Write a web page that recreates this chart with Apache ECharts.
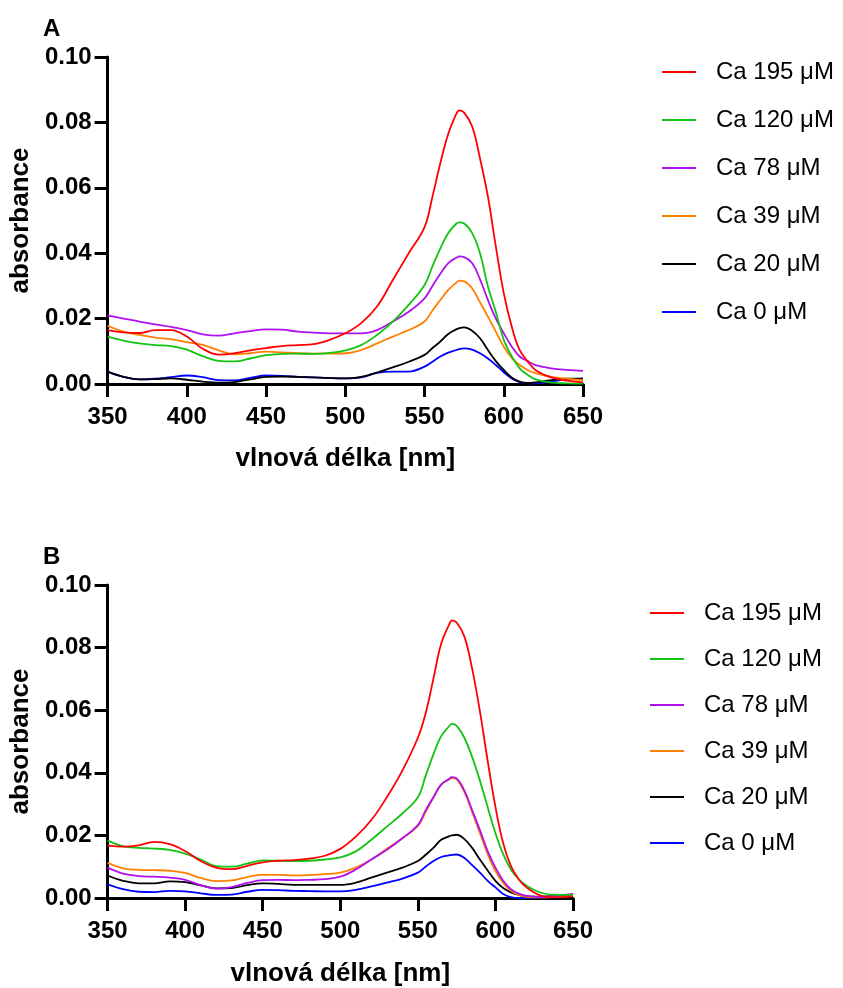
<!DOCTYPE html>
<html>
<head>
<meta charset="utf-8">
<script src="https://cdn.jsdelivr.net/npm/echarts@6/dist/echarts.min.js"></script>
<style>
html,body{margin:0;padding:0;background:#fff;}
#chart{width:843px;height:988px;}
</style>
</head>
<body>
<div id="chart"></div>
<script>
// wavelengths (nm) shared by all series
const wavelengths = [350,360,370,380,390,400,410,420,430,440,450,460,470,480,490,500,510,520,530,540,550,555,560,565,570,572,575,580,585,590,595,600,605,610,615,620,630,640,650];

const seriesNames = ['Ca 195 μM','Ca 120 μM','Ca 78 μM','Ca 39 μM','Ca 20 μM','Ca 0 μM'];
const seriesColors = ['#ff0000','#12c312','#b010ee','#ff8000','#000000','#0000ff'];

// Panel A
const a_ca195 = [.0165,.0158,.0156,.0165,.0165,.0145,.0108,.0090,.0094,.0103,.0110,.0116,.0119,.0122,.0135,.0155,.0186,.0237,.0318,.0400,.0480,.0573,.0676,.0765,.0826,.0837,.0830,.0788,.0690,.0573,.0420,.0278,.0176,.0104,.0070,.0043,.0020,.0010,.0005];
const a_ca120 = [.0145,.0133,.0124,.0119,.0116,.0105,.0085,.0071,.0069,.0078,.0088,.0092,.0093,.0092,.0095,.0103,.0119,.0150,.0191,.0242,.0303,.0360,.0415,.0462,.0490,.0494,.0491,.0462,.0400,.0298,.0220,.0135,.0085,.0048,.0028,.0014,.0004,.0002,.0001];
const a_ca78  = [.0210,.0200,.0191,.0182,.0175,.0165,.0152,.0148,.0155,.0162,.0167,.0166,.0160,.0157,.0155,.0155,.0155,.0165,.0191,.0221,.0262,.0300,.0337,.0370,.0386,.0390,.0388,.0370,.0320,.0257,.0200,.0155,.0115,.0084,.0070,.0058,.0048,.0043,.0040];
const a_ca39  = [.0178,.0160,.0150,.0142,.0137,.0128,.0120,.0103,.0091,.0094,.0099,.0097,.0094,.0093,.0093,.0094,.0104,.0124,.0145,.0165,.0191,.0225,.0257,.0288,.0310,.0316,.0314,.0293,.0250,.0206,.0160,.0114,.0080,.0058,.0043,.0033,.0022,.0016,.0012];
const a_ca20  = [.0038,.0022,.0014,.0015,.0017,.0013,.0007,.0004,.0006,.0014,.0022,.0023,.0022,.0020,.0018,.0017,.0022,.0035,.0051,.0068,.0089,.0110,.0130,.0153,.0167,.0171,.0173,.0163,.0140,.0104,.0070,.0043,.0020,.0007,.0003,.0005,.0012,.0016,.0016];
const a_ca0   = [.0038,.0022,.0014,.0016,.0021,.0026,.0021,.0012,.0011,.0019,.0026,.0025,.0022,.0020,.0018,.0017,.0020,.0034,.0038,.0038,.0053,.0068,.0084,.0096,.0104,.0107,.0109,.0105,.0094,.0078,.0058,.0036,.0017,.0006,.0002,.0002,.0008,.0014,.0016];

// Panel B
const b_ca195 = [.0167,.0164,.0168,.0179,.0172,.0150,.0118,.0097,.0092,.0103,.0114,.0119,.0121,.0126,.0135,.0157,.0196,.0249,.0322,.0407,.0512,.0590,.0700,.0812,.0872,.0887,.0880,.0835,.0732,.0596,.0438,.0291,.0175,.0102,.0060,.0034,.0007,.0002,.0005];
const b_ca120 = [.0184,.0165,.0160,.0158,.0154,.0142,.0123,.0102,.0100,.0110,.0120,.0119,.0118,.0119,.0123,.0130,.0149,.0186,.0228,.0270,.0322,.0390,.0459,.0517,.0548,.0556,.0550,.0512,.0450,.0375,.0290,.0207,.0140,.0091,.0060,.0039,.0016,.0010,.0010];
const b_ca78  = [.0097,.0078,.0070,.0068,.0065,.0058,.0041,.0030,.0035,.0048,.0057,.0058,.0057,.0058,.0060,.0068,.0091,.0123,.0154,.0191,.0233,.0280,.0322,.0362,.0380,.0386,.0382,.0343,.0280,.0217,.0150,.0097,.0055,.0028,.0014,.0007,.0002,.0007,.0013];
const b_ca39  = [.0112,.0095,.0090,.0089,.0087,.0080,.0064,.0054,.0056,.0067,.0074,.0074,.0072,.0073,.0076,.0081,.0097,.0123,.0157,.0191,.0230,.0275,.0320,.0362,.0378,.0383,.0379,.0338,.0275,.0207,.0140,.0086,.0048,.0023,.0010,.0004,.0002,.0004,.0007];
const b_ca20  = [.0072,.0055,.0047,.0047,.0053,.0051,.0040,.0031,.0032,.0041,.0047,.0045,.0042,.0042,.0042,.0042,.0049,.0065,.0081,.0097,.0118,.0138,.0160,.0186,.0197,.0200,.0202,.0188,.0160,.0123,.0088,.0055,.0032,.0018,.0010,.0004,.0004,.0007,.0009];
const b_ca0   = [.0044,.0028,.0020,.0019,.0023,.0021,.0015,.0010,.0011,.0020,.0026,.0025,.0023,.0022,.0021,.0021,.0026,.0037,.0049,.0062,.0081,.0100,.0118,.0131,.0136,.0138,.0139,.0128,.0105,.0081,.0055,.0034,.0013,.0003,.0000,.0000,.0002,.0005,.0008];

// tick labels
const yTicks = ['0.00','0.02','0.04','0.06','0.08','0.10'];
const xTicks = [350,400,450,500,550,600,650];

const panelA = [a_ca195,a_ca120,a_ca78,a_ca39,a_ca20,a_ca0];
const panelB = [b_ca195,b_ca120,b_ca78,b_ca39,b_ca20,b_ca0];

const FONT = "'Liberation Sans', Arial, sans-serif";

function xAxisOpt(gridIndex, nameGap){
  return {
    type:'value', gridIndex, min:xTicks[0], max:xTicks[xTicks.length-1], interval:50,
    name:'vlnová délka [nm]', nameLocation:'middle', nameGap,
    nameTextStyle:{fontFamily:FONT,fontWeight:'bold',fontSize:26,color:'#000'},
    axisLine:{show:true,onZero:false,lineStyle:{color:'#000',width:3}},
    axisTick:{show:true,length:13,lineStyle:{color:'#000',width:3}},
    axisLabel:{margin:21,fontFamily:FONT,fontWeight:'bold',fontSize:24,color:'#000'},
    splitLine:{show:false}
  };
}
function yAxisOpt(gridIndex){
  return {
    type:'value', gridIndex, min:0, max:0.1, interval:0.02,
    name:'absorbance', nameLocation:'middle', nameGap:68, nameRotate:90,
    nameTextStyle:{fontFamily:FONT,fontWeight:'bold',fontSize:26,color:'#000'},
    axisLine:{show:true,onZero:false,lineStyle:{color:'#000',width:3}},
    axisTick:{show:true,length:13,lineStyle:{color:'#000',width:3}},
    axisLabel:{margin:16,fontFamily:FONT,fontWeight:'bold',fontSize:24,color:'#000',
      formatter:(v)=>yTicks[Math.round(v/0.02)]},
    splitLine:{show:false}
  };
}

const series = [];
function addPanel(data, idx){
  for(let i=data.length-1;i>=0;i--){
    series.push({
      name:seriesNames[i], type:'line', xAxisIndex:idx, yAxisIndex:idx,
      data:wavelengths.map((w,k)=>[w,data[i][k]]),
      smooth:0.4, showSymbol:false, symbol:'none',
      lineStyle:{color:seriesColors[i],width:1.8},
      itemStyle:{color:seriesColors[i]},
      emphasis:{disabled:true}, animation:false
    });
  }
}
addPanel(panelA,0);
addPanel(panelB,1);

function legendOpt(left, top, itemGap){
  return {
    orient:'vertical', left, top, itemGap,
    data:seriesNames.slice(),
    icon:'rect', itemWidth:34, itemHeight:2,
    textStyle:{fontFamily:FONT,fontSize:24,color:'#000',lineHeight:28,padding:[0,0,0,15]},
    selectedMode:false
  };
}

const chart = echarts.init(document.getElementById('chart'), null, {renderer:'canvas'});
chart.setOption({
  backgroundColor:'#fff',
  animation:false,
  title:[
    {text:'A', left:38, top:12, textStyle:{fontFamily:FONT,fontWeight:'bold',fontSize:24,color:'#000'}},
    {text:'B', left:38, top:540, textStyle:{fontFamily:FONT,fontWeight:'bold',fontSize:24,color:'#000'}}
  ],
  grid:[
    {left:105, top:57, width:478, height:327},
    {left:104, top:585, width:469, height:318}
  ],
  xAxis:[xAxisOpt(0,62), xAxisOpt(1,63)],
  yAxis:[yAxisOpt(0), yAxisOpt(1)],
  legend:[legendOpt(657,53,20), legendOpt(645,594,18)],
  series
});
</script>
</body>
</html>
